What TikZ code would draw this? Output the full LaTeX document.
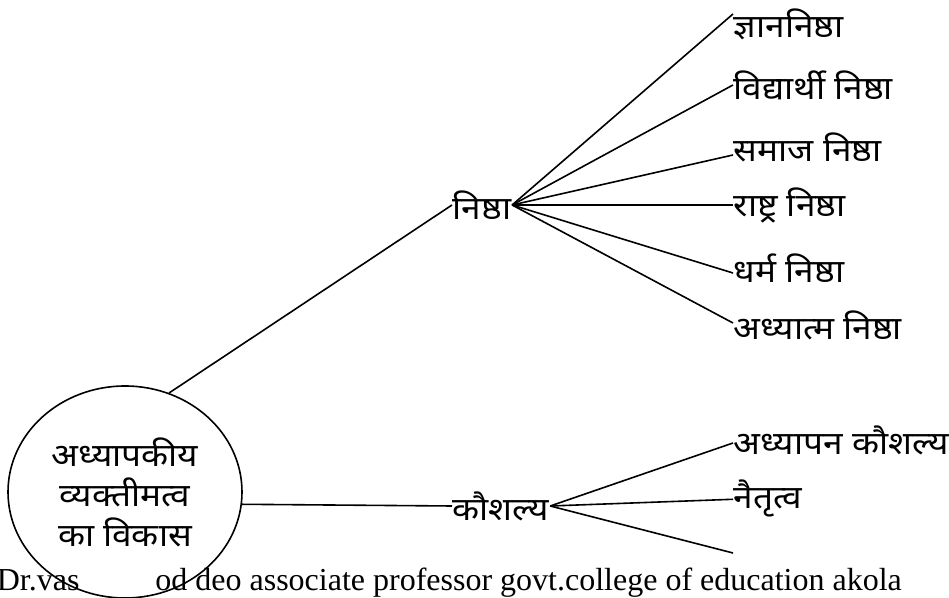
\documentclass[tikz,border=0pt]{standalone}
\usepackage{fontspec}
\usetikzlibrary{shapes.geometric}
\newfontfamily\devfont[Script=Devanagari,FakeStretch=1.1]{Noto Sans}
\newfontfamily\engfont{Liberation Serif}
\begin{document}
\begin{tikzpicture}[x=0.5pt,y=-0.5pt,line width=0.8pt,
  lbl/.style={font=\devfont\fontsize{16}{20}\selectfont,inner sep=0pt},
  leaf/.style={lbl,anchor=west}]
\useasboundingbox (0,0) rectangle (949,598);
\pgfmathsetmacro{\kleafx}{733}
% root
\node[draw,fill=white,ellipse,minimum width=117pt,minimum height=106pt,inner sep=0pt,
  lbl,align=center] (vikas) at (125,492) {अध्यापकीय\\व्यक्तीमत्व\\का विकास};
\node[anchor=base west,inner sep=0pt,font=\engfont\fontsize{16}{19}\selectfont] (credit) at (-4,591)
  {Dr.vas\hspace{38pt}od deo associate professor govt.college of education akola};
% branches
\node[leaf] (nishtha) at (452,205) {निष्ठा};
\node[leaf] (kaushalya) at (452,506) {कौशल्य};
\draw (vikas.66) -- (nishtha.west);
\draw (vikas.-6) -- (kaushalya.west);
\foreach \ny/\noff/\nlb [count=\ni] in {24/5/{ज्ञाननिष्ठा},85/0/{विद्यार्थी निष्ठा},147/-4/{समाज निष्ठा},205/0/{राष्ट्र निष्ठा},268/-2.5/{धर्म निष्ठा},325/1/{अध्यात्म निष्ठा}}{
  \node[leaf] (n\ni) at (\kleafx,\ny) {\nlb};
  \draw (nishtha.east) -- ([yshift=\noff pt]n\ni.west);}
\node[leaf] (k1) at (\kleafx,440) {अध्यापन कौशल्य};
\node[leaf] (k2) at (\kleafx,498) {नैतृत्व};
\coordinate (k3) at (\kleafx,553);
\draw (kaushalya.east) -- ([yshift=-1.5pt]k1.west);
\foreach \kk in {k2,k3}{\draw (kaushalya.east) -- (\kk);}
\end{tikzpicture}
\end{document}
